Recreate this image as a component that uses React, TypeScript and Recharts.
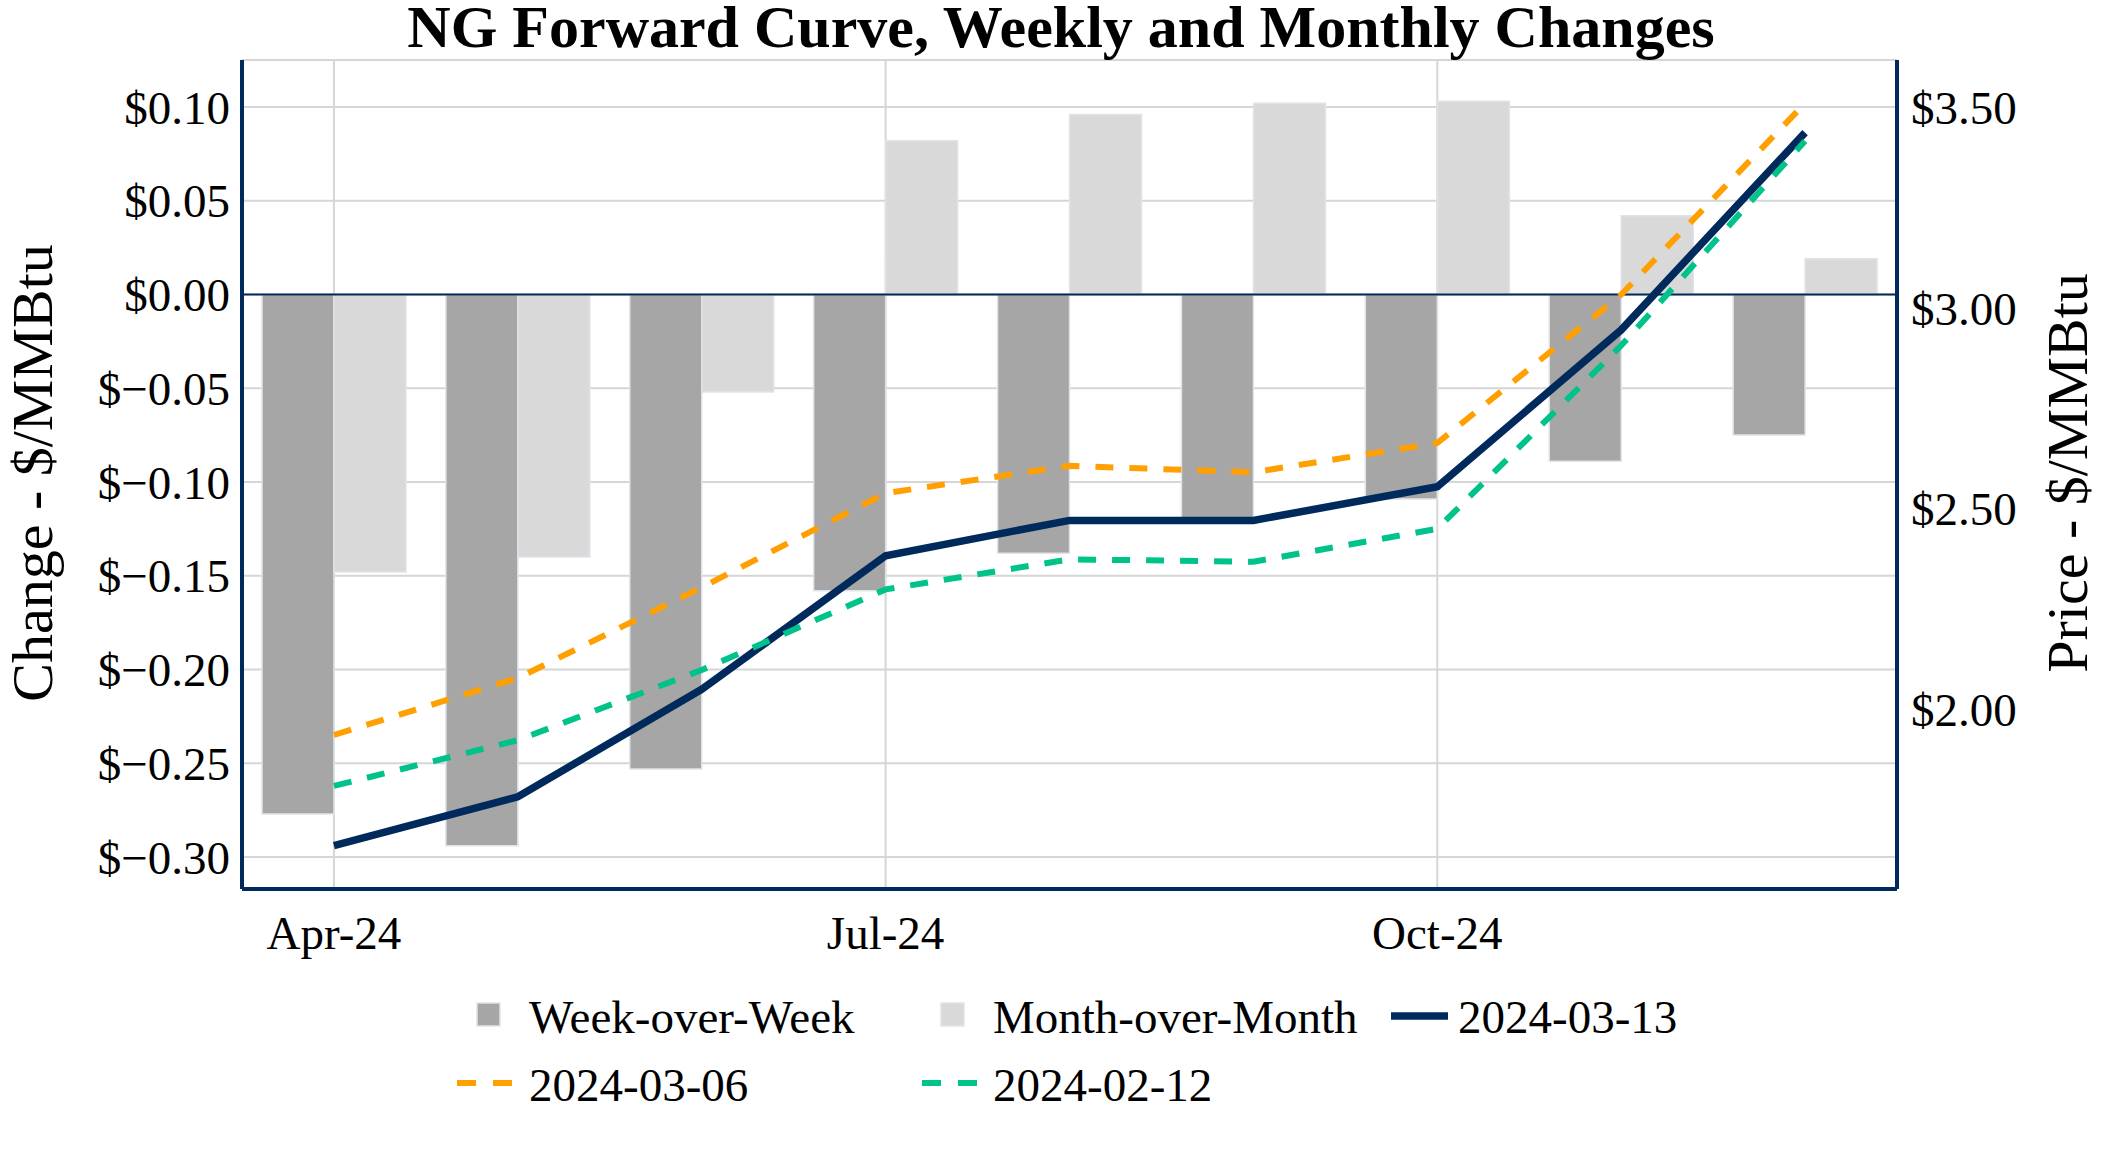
import { ComposedChart, Bar, Line, XAxis, YAxis, CartesianGrid, ReferenceLine } from 'recharts';

const months = ['Apr-24', 'May-24', 'Jun-24', 'Jul-24', 'Aug-24', 'Sep-24', 'Oct-24', 'Nov-24', 'Dec-24'];
const weekOverWeek = [-0.277, -0.294, -0.253, -0.158, -0.138, -0.119, -0.109, -0.089, -0.075];
const monthOverMonth = [-0.148, -0.14, -0.052, 0.082, 0.096, 0.102, 0.103, 0.042, 0.019];
const curve0313 = [1.659, 1.781, 2.049, 2.382, 2.47, 2.47, 2.554, 2.945, 3.437];
const curve0306 = [1.935, 2.077, 2.303, 2.538, 2.606, 2.59, 2.663, 3.033, 3.51];
const curve0212 = [1.808, 1.922, 2.097, 2.298, 2.373, 2.367, 2.449, 2.906, 3.416];

const xTicks = ['Apr-24', 'Jul-24', 'Oct-24'];
const changeTicks = [-0.3, -0.25, -0.2, -0.15, -0.1, -0.05, 0, 0.05, 0.1];
const priceTicks = [2, 2.5, 3, 3.5];

const NAVY = '#002a5c';
const ORANGE = '#ffa000';
const GREEN = '#00c28b';
const WOW_GRAY = '#a6a6a6';
const MOM_GRAY = '#d9d9d9';
const BAR_EDGE = '#dfe3ea';
const GRID = '#d6d6d6';
const FONT = '"Liberation Serif", "Times New Roman", Times, serif';

const W = 2112;
const H = 1152;

const fmtChange = (v: number) => `$${v < 0 ? '\u2212' : ''}${Math.abs(v).toFixed(2)}`;
const fmtPrice = (v: number) => `$${v.toFixed(2)}`;

const data = months.map((m, i) => ({
  month: m,
  wow: weekOverWeek[i],
  mom: monthOverMonth[i],
  c0313: curve0313[i],
  c0306: curve0306[i],
  c0212: curve0212[i],
}));

const tickStyle = { fontSize: 47, fill: '#000', fontFamily: FONT };

// titles and legend sit in an svg laid over the chart
const Overlay = () => (
  <svg
    width={W}
    height={H}
    style={{ position: 'absolute', left: 0, top: 0, pointerEvents: 'none' }}
    fontFamily={FONT}
  >
    <text x={1061} y={47} textAnchor="middle" fontSize={60} fontWeight="bold" fill="#000">
      NG Forward Curve, Weekly and Monthly Changes
    </text>
    <text x={52} y={473} transform="rotate(-90, 52, 473)" textAnchor="middle" fontSize={58} fill="#000">
      Change - $/MMBtu
    </text>
    <text x={2087} y={473} transform="rotate(-90, 2087, 473)" textAnchor="middle" fontSize={58} fill="#000">
      Price - $/MMBtu
    </text>

    {/* legend row 1 */}
    <rect x={477} y={1003} width={23} height={23} fill={WOW_GRAY} stroke={BAR_EDGE} strokeWidth={1.5} />
    <text x={529} y={1033} fontSize={47} fill="#000">Week-over-Week</text>
    <rect x={941} y={1003} width={23} height={23} fill={MOM_GRAY} stroke={BAR_EDGE} strokeWidth={1.5} />
    <text x={993} y={1033} fontSize={47} fill="#000">Month-over-Month</text>
    <line x1={1391} x2={1448} y1={1016} y2={1016} stroke={NAVY} strokeWidth={7.5} />
    <text x={1458} y={1033} fontSize={47} fill="#000">2024-03-13</text>

    {/* legend row 2 */}
    <line x1={457} x2={512} y1={1083} y2={1083} stroke={ORANGE} strokeWidth={6} strokeDasharray="19 17" />
    <text x={529} y={1101} fontSize={47} fill="#000">2024-03-06</text>
    <line x1={922} x2={977} y1={1083} y2={1083} stroke={GREEN} strokeWidth={6} strokeDasharray="19 17" />
    <text x={993} y={1101} fontSize={47} fill="#000">2024-02-12</text>
  </svg>
);

export default function App() {
  return (
    <div style={{ position: 'absolute', left: 0, top: 0, width: W, height: H, background: '#fff' }}>
      <ComposedChart
        width={W}
        height={H}
        data={data}
        margin={{ top: 60, right: 0, bottom: 163, left: 0 }}
        barGap={0}
      >
        <CartesianGrid yAxisId="left" stroke={GRID} strokeWidth={2} />
        <XAxis
          dataKey="month"
          ticks={xTicks}
          interval={0}
          height={100}
          tickSize={0}
          tickMargin={27}
          tick={tickStyle}
          axisLine={{ stroke: NAVY, strokeWidth: 4 }}
          tickLine={false}
        />
        <YAxis
          yAxisId="left"
          type="number"
          domain={[-0.317, 0.125]}
          ticks={changeTicks}
          tickFormatter={fmtChange}
          width={242}
          tickSize={0}
          tickMargin={12}
          tick={tickStyle}
          axisLine={{ stroke: NAVY, strokeWidth: 4 }}
          tickLine={false}
          allowDataOverflow
        />
        <YAxis
          yAxisId="right"
          orientation="right"
          type="number"
          domain={[1.551, 3.618]}
          ticks={priceTicks}
          tickFormatter={fmtPrice}
          width={215}
          tickSize={0}
          tickMargin={14}
          tick={tickStyle}
          axisLine={{ stroke: NAVY, strokeWidth: 4 }}
          tickLine={false}
          allowDataOverflow
        />
        <ReferenceLine yAxisId="left" y={0} stroke={NAVY} strokeWidth={2} />
        <Bar
          yAxisId="left"
          dataKey="wow"
          name="Week-over-Week"
          fill={WOW_GRAY}
          stroke={BAR_EDGE}
          strokeWidth={1.5}
          barSize={72}
          isAnimationActive={false}
        />
        <Bar
          yAxisId="left"
          dataKey="mom"
          name="Month-over-Month"
          fill={MOM_GRAY}
          stroke={BAR_EDGE}
          strokeWidth={1.5}
          barSize={72}
          isAnimationActive={false}
        />
        <Line
          yAxisId="right"
          dataKey="c0313"
          name="2024-03-13"
          type="linear"
          stroke={NAVY}
          strokeWidth={7.5}
          dot={false}
          activeDot={false}
          isAnimationActive={false}
        />
        <Line
          yAxisId="right"
          dataKey="c0306"
          name="2024-03-06"
          type="linear"
          stroke={ORANGE}
          strokeWidth={6}
          strokeDasharray="18 16"
          dot={false}
          activeDot={false}
          isAnimationActive={false}
        />
        <Line
          yAxisId="right"
          dataKey="c0212"
          name="2024-02-12"
          type="linear"
          stroke={GREEN}
          strokeWidth={6}
          strokeDasharray="18 16"
          dot={false}
          activeDot={false}
          isAnimationActive={false}
        />
      </ComposedChart>
      <Overlay />
    </div>
  );
}
